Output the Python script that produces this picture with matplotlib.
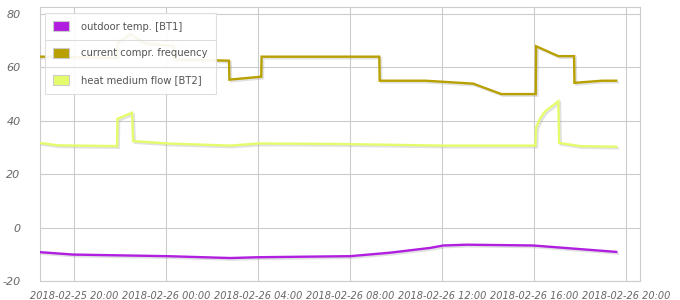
import numpy as np
import pandas as pd
import matplotlib
matplotlib.use("Agg")
from matplotlib import pyplot as plt
import matplotlib.dates as mdates
import matplotlib.patheffects as pe
from matplotlib.patches import Patch

plt.rcParams["axes.unicode_minus"] = False

# outdoor temp. [BT1]
temp_times = ["2018-02-25 18:31", "2018-02-25 19:57", "2018-02-26 00:03", "2018-02-26 02:47",
              "2018-02-26 04:00", "2018-02-26 08:00", "2018-02-26 09:44", "2018-02-26 11:29",
              "2018-02-26 12:03", "2018-02-26 13:05", "2018-02-26 15:57", "2018-02-26 19:34"]
temp_values = [-9.2, -10.1, -10.7, -11.4, -11.1, -10.7, -9.4, -7.6, -6.7, -6.4, -6.7, -9.1]

# current compr. frequency
freq_times = ["2018-02-25 18:31", "2018-02-25 19:18", "2018-02-25 21:52", "2018-02-25 21:53",
              "2018-02-25 22:26", "2018-02-25 23:05", "2018-02-26 00:20", "2018-02-26 00:21",
              "2018-02-26 02:44", "2018-02-26 02:45", "2018-02-26 04:08", "2018-02-26 04:09",
              "2018-02-26 09:16", "2018-02-26 09:17", "2018-02-26 11:16", "2018-02-26 13:21",
              "2018-02-26 14:34", "2018-02-26 16:04", "2018-02-26 16:05", "2018-02-26 17:03",
              "2018-02-26 17:44", "2018-02-26 17:45", "2018-02-26 18:57", "2018-02-26 19:34"]
freq_values = [64, 64, 63.5, 69, 72.5, 69, 68, 63, 62.5, 55.4, 56.5, 64,
               64, 55, 55, 53.9, 50, 50, 67.9, 64.2, 64.2, 54.2, 55, 55]

# heat medium flow [BT2]
flow_times = ["2018-02-25 18:31", "2018-02-25 19:18", "2018-02-25 21:52", "2018-02-25 21:53",
              "2018-02-25 22:31", "2018-02-25 22:34", "2018-02-26 00:03", "2018-02-26 02:47",
              "2018-02-26 04:00", "2018-02-26 07:34", "2018-02-26 12:03", "2018-02-26 16:03",
              "2018-02-26 16:05", "2018-02-26 16:16", "2018-02-26 16:29", "2018-02-26 17:03",
              "2018-02-26 17:05", "2018-02-26 18:00", "2018-02-26 19:34"]
flow_values = [31.7, 30.8, 30.5, 40.7, 43, 32.4, 31.5, 30.7, 31.5, 31.3, 30.7, 30.7,
               37.5, 41, 43.6, 47.3, 31.7, 30.5, 30.3]

series = [
    ("outdoor temp. [BT1]", temp_times, temp_values, "#b01ee0"),
    ("current compr. frequency", freq_times, freq_values, "#b8a000"),
    ("heat medium flow [BT2]", flow_times, flow_values, "#e4fc6c"),
]

fig = plt.figure(figsize=(6.8, 3.0), dpi=100)
ax = fig.add_axes([40 / 680, 19 / 300, 600 / 680, 274 / 300])

shadow = [pe.SimpleLineShadow(offset=(1.2, -1.2), shadow_color="#888888", alpha=0.25),
          pe.Normal()]
for name, times, values, color in series:
    ax.plot(pd.to_datetime(times), values, color=color, lw=1.7,
            solid_joinstyle="miter", path_effects=shadow, zorder=3)

ax.set_xlim(pd.Timestamp("2018-02-25 18:31"), pd.Timestamp("2018-02-26 20:36"))
ax.set_ylim(-20, 82.6)
ax.set_yticks([-20, 0, 20, 40, 60, 80])
ax.xaxis.set_major_locator(mdates.HourLocator(byhour=[0, 4, 8, 12, 16, 20]))
ax.xaxis.set_major_formatter(mdates.DateFormatter("%Y-%m-%d %H:%M"))

ax.grid(True, color="#cccccc", lw=0.8)
ax.set_axisbelow(True)
for s in ax.spines.values():
    s.set_color("#cccccc")
    s.set_linewidth(0.8)
ax.tick_params(length=0, colors="#666666")
ax.tick_params(axis="x", pad=7, labelsize=7)
ax.tick_params(axis="y", pad=14, labelsize=8)
for lab in ax.get_xticklabels() + ax.get_yticklabels():
    lab.set_fontstyle("italic")

handles = [Patch(facecolor=c, edgecolor="#cccccc", lw=0.8) for _, _, _, c in series]
leg = ax.legend(handles, [s[0] for s in series], loc="upper left",
                bbox_to_anchor=(5 / 600, 268 / 274), fontsize=7.2,
                labelspacing=1.65, handlelength=1.6, handleheight=1.2,
                handletextpad=1.2, borderpad=0.8, borderaxespad=0,
                fancybox=False, framealpha=0.93, edgecolor="#dddddd")
for t in leg.get_texts():
    t.set_color("#555555")
leg.get_frame().set_linewidth(0.8)

fig.canvas.draw()
bb = leg.get_window_extent().transformed(ax.transAxes.inverted())
rows = bb.height / 3
for i in (1, 2):
    ax.plot([bb.x0, bb.x1], [bb.y0 + rows * i] * 2, transform=ax.transAxes,
            color="#dddddd", lw=0.8, zorder=6, clip_on=False)

fig.savefig("out.png", dpi=100)
